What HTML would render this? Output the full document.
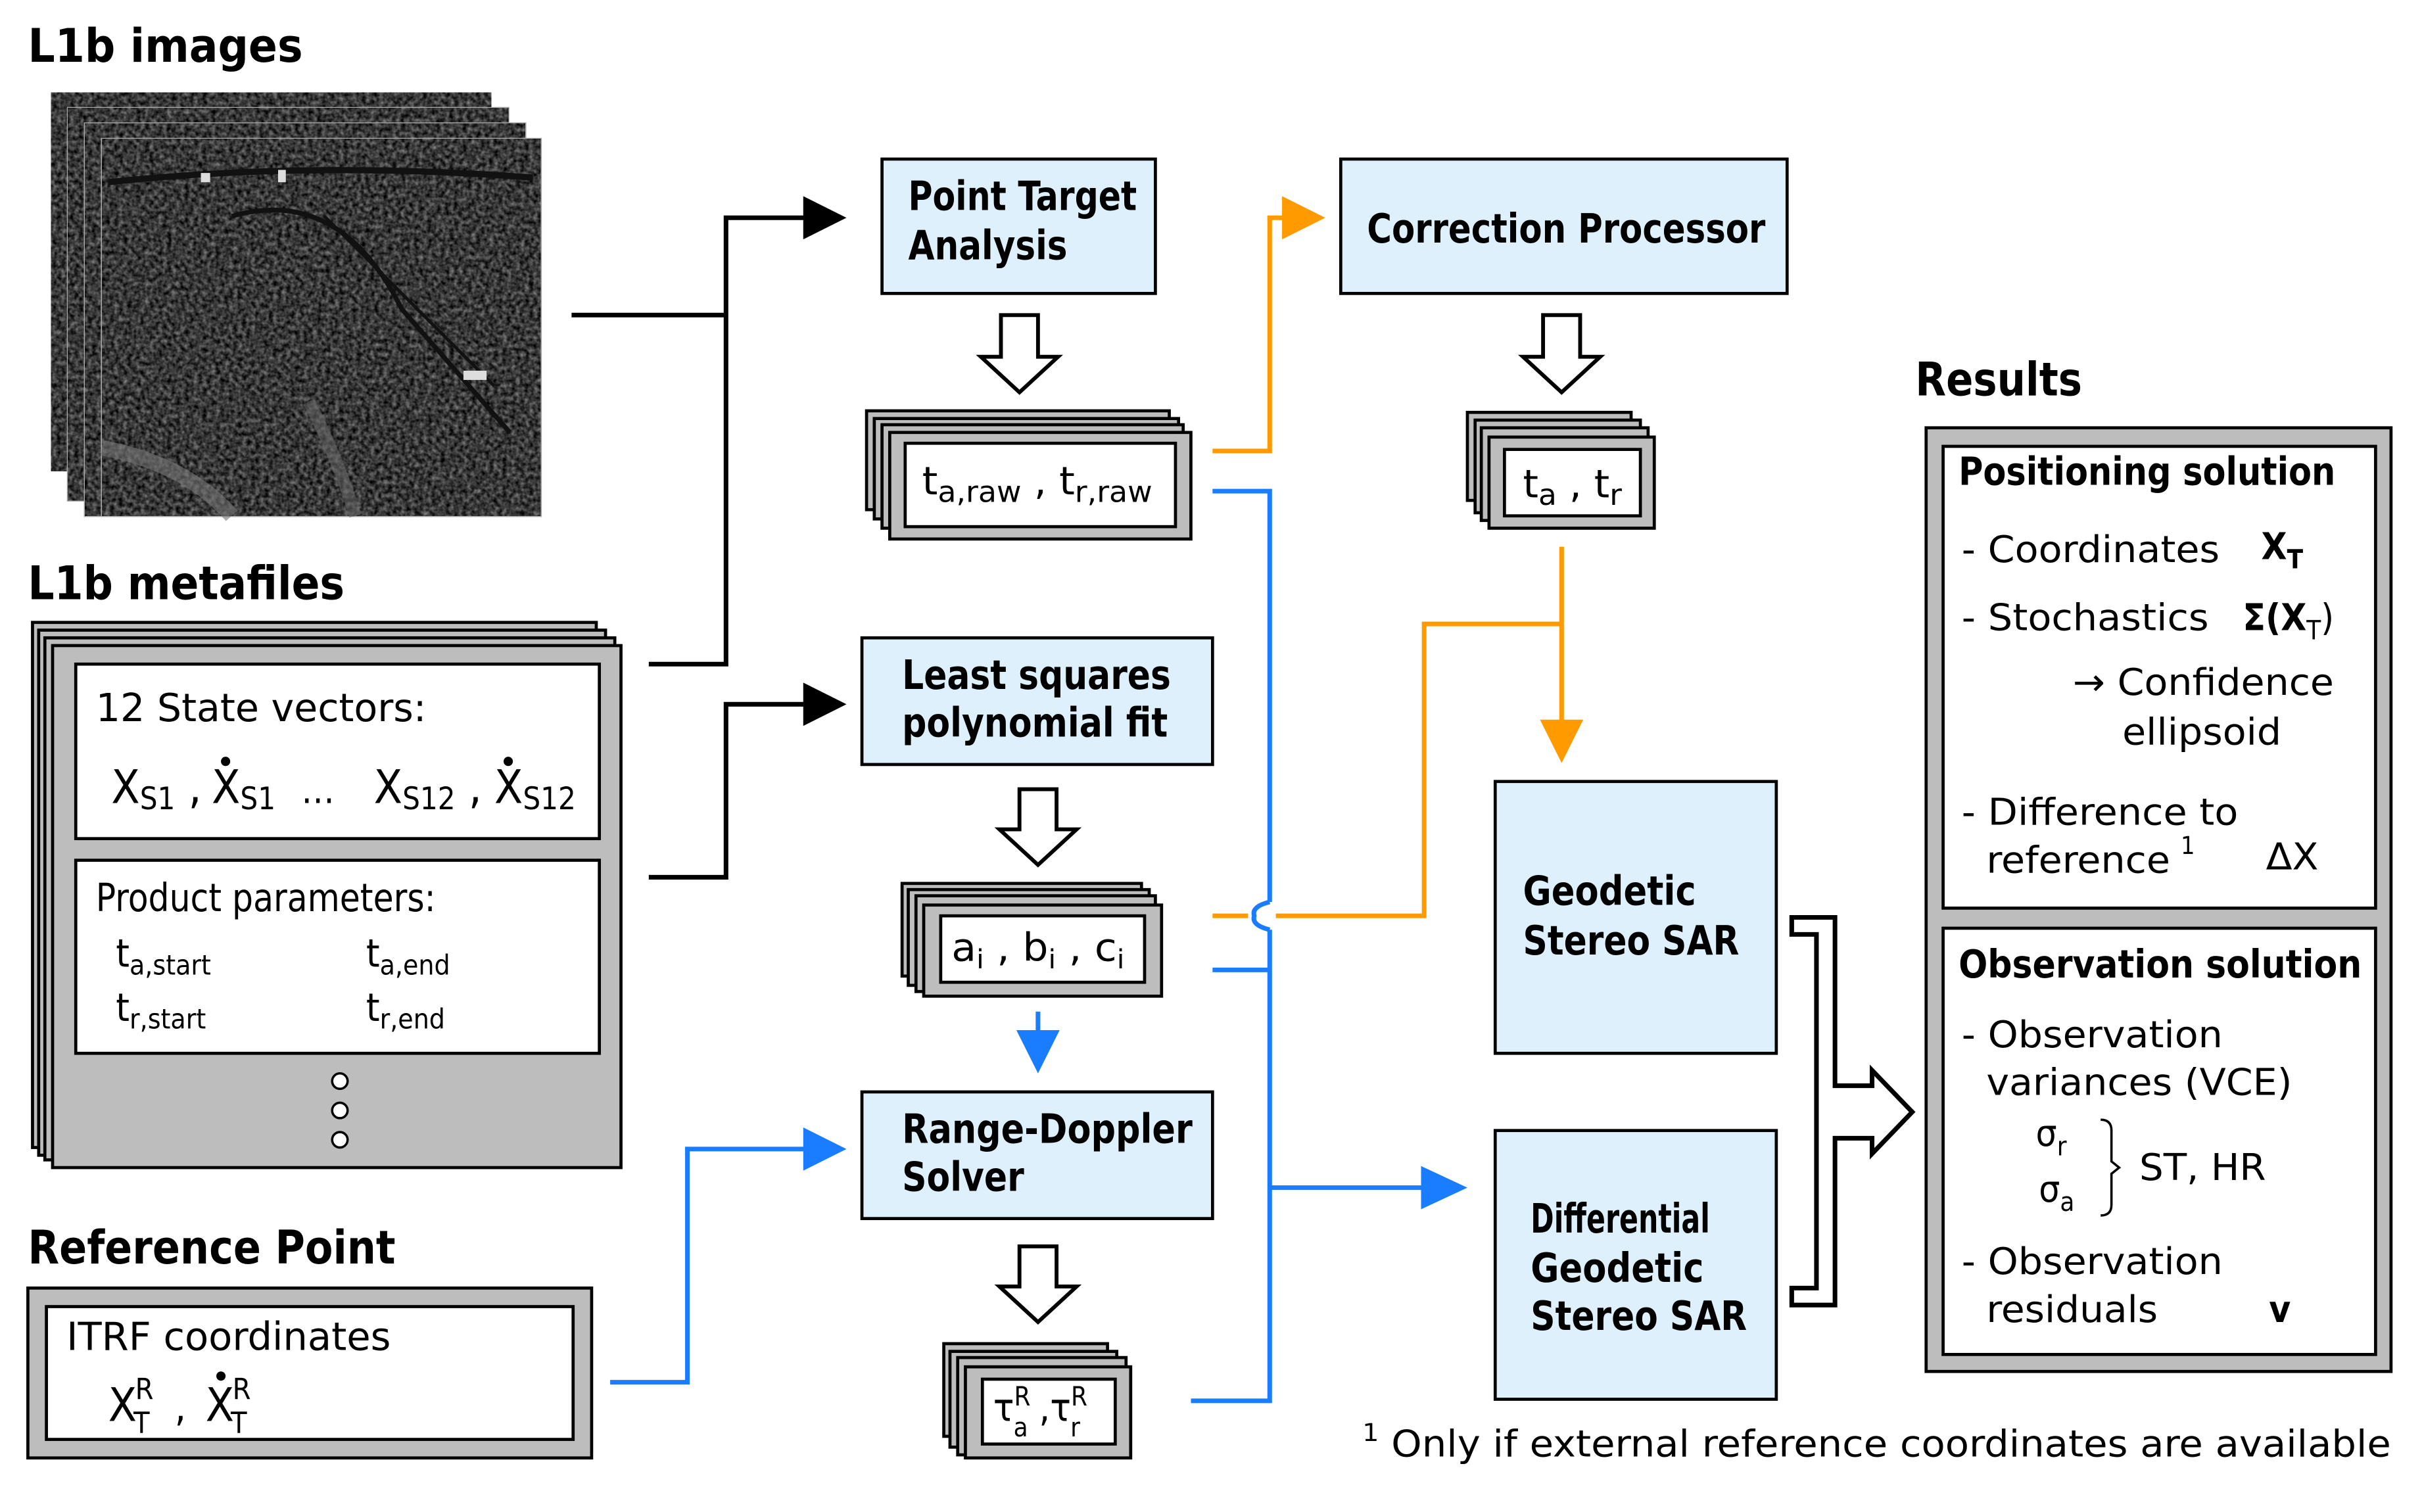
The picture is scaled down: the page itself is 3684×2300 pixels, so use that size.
<!DOCTYPE html>
<html><head><meta charset="utf-8"><style>
html,body{margin:0;padding:0;background:#fff;}
svg{display:block;}
text{font-family:"DejaVu Sans Condensed","DejaVu Sans","Liberation Sans",sans-serif;fill:#000;}
.b{font-weight:bold;}
.r{font-family:"DejaVu Sans","Liberation Sans",sans-serif;}
</style></head><body>
<svg width="3684" height="2300" viewBox="0 0 1568 979" xmlns="http://www.w3.org/2000/svg">
<defs>
<filter id="noise" x="0" y="0" width="100%" height="100%" filterUnits="objectBoundingBox" color-interpolation-filters="sRGB">
<feTurbulence type="fractalNoise" baseFrequency="0.35" numOctaves="2" seed="3"/>
<feColorMatrix type="matrix" values="0.7 0 0 0 -0.13  0.7 0 0 0 -0.13  0.7 0 0 0 -0.13  0 0 0 0 1"/>
</filter>
</defs>
<rect width="1568" height="979" fill="#fff"/>

<text x="18" y="40" class="b" font-size="30" textLength="178" lengthAdjust="spacingAndGlyphs">L1b images</text>
<text x="18" y="388" class="b" font-size="30" textLength="205" lengthAdjust="spacingAndGlyphs">L1b metafiles</text>
<text x="18" y="818" class="b" font-size="30" textLength="238" lengthAdjust="spacingAndGlyphs">Reference Point</text>
<text x="1240" y="256" class="b" font-size="30" textLength="108" lengthAdjust="spacingAndGlyphs">Results</text>

<!-- image stack -->
<rect x="33" y="60" width="285" height="245" fill="#444" filter="url(#noise)"/>
<rect x="44" y="70" width="285" height="254" fill="none" stroke="#aaa" stroke-width="1.5"/>
<rect x="44" y="70" width="285" height="254" fill="#3e3e3e" filter="url(#noise)"/>
<rect x="55" y="80" width="285" height="254" fill="none" stroke="#aaa" stroke-width="1.5"/>
<rect x="55" y="80" width="285" height="254" fill="#3a3a3a" filter="url(#noise)"/>
<rect x="66" y="90" width="284" height="244" fill="none" stroke="#aaa" stroke-width="1.5"/>
<rect x="66" y="90" width="284" height="244" fill="#353535" filter="url(#noise)"/>
<path d="M70,118 Q200,104 345,115" stroke="#111" stroke-width="4" fill="none"/>
<path d="M150,140 Q220,120 260,200 L330,280" stroke="#111" stroke-width="3" fill="none"/>
<path d="M210,140 L320,250" stroke="#111" stroke-width="2" fill="none"/>
<path d="M66,290 Q120,300 150,334" stroke="#777" stroke-width="10" fill="none" opacity="0.6"/>
<path d="M200,260 Q220,300 230,334" stroke="#666" stroke-width="8" fill="none" opacity="0.6"/>
<rect x="300" y="240" width="15" height="6" fill="#ddd"/><rect x="130" y="112" width="6" height="6" fill="#ddd"/><rect x="180" y="110" width="5" height="8" fill="#ddd"/>

<g stroke="#000" stroke-width="3" fill="none">
<polyline points="370,204 470,204"/>
<polyline points="420,430 470,430 470,141 522,141"/>
<polyline points="420,568 470,568 470,456 522,456"/>
</g>
<polygon points="520,127 548,141 520,155" fill="#000"/>
<polygon points="520,442 548,456 520,470" fill="#000"/>

<g stroke="#000" stroke-width="2" fill="#bdbdbd">
<rect x="21" y="403" width="365" height="340"/>
<rect x="25" y="408" width="367" height="340"/>
<rect x="29" y="413" width="369" height="338"/>
<rect x="34" y="418" width="368" height="338"/>
</g>
<rect x="49" y="430" width="339" height="113" fill="#fff" stroke="#000" stroke-width="2"/>
<rect x="49" y="557" width="339" height="125" fill="#fff" stroke="#000" stroke-width="2"/>
<text x="62" y="467" font-size="25" textLength="214" lengthAdjust="spacingAndGlyphs">12 State vectors:</text>
<g font-size="30">
<text x="72" y="520">X<tspan font-size="20" dy="4">S1</tspan><tspan dy="-4"> ,</tspan></text>
<text x="137" y="520">X<tspan font-size="20" dy="4">S1</tspan></text>
<text x="195" y="520" font-size="24">…</text>
<text x="242" y="520">X<tspan font-size="20" dy="4">S12</tspan><tspan dy="-4"> ,</tspan></text>
<text x="320" y="520">X<tspan font-size="20" dy="4">S12</tspan></text>
</g>
<circle cx="146" cy="493" r="3"/><circle cx="329" cy="493" r="3"/>
<text x="62" y="590" font-size="25" textLength="220" lengthAdjust="spacingAndGlyphs">Product parameters:</text>
<g font-size="25">
<text x="75" y="626">t<tspan font-size="18" dy="5">a,start</tspan></text>
<text x="237" y="626">t<tspan font-size="18" dy="5">a,end</tspan></text>
<text x="75" y="661">t<tspan font-size="18" dy="5">r,start</tspan></text>
<text x="237" y="661">t<tspan font-size="18" dy="5">r,end</tspan></text>
</g>
<g fill="#fff" stroke="#000" stroke-width="1.5">
<circle cx="220" cy="700" r="5"/><circle cx="220" cy="719" r="5"/><circle cx="220" cy="738" r="5"/>
</g>

<rect x="18" y="834" width="365" height="110" fill="#bdbdbd" stroke="#000" stroke-width="2"/>
<rect x="30" y="846" width="341" height="86" fill="#fff" stroke="#000" stroke-width="2"/>
<text x="43" y="874" font-size="25" textLength="210" lengthAdjust="spacingAndGlyphs">ITRF coordinates</text>
<g font-size="30">
<text x="70" y="920">X<tspan font-size="19" dx="-1" dy="-14">R</tspan><tspan font-size="19" dx="-13" dy="22">T</tspan></text>
<text x="113" y="920" font-size="26">,</text>
<text x="133" y="920">X<tspan font-size="19" dx="-1" dy="-14">R</tspan><tspan font-size="19" dx="-13" dy="22">T</tspan></text>
</g>
<circle cx="143" cy="891" r="3"/>

<g stroke="#1a7cff" stroke-width="3" fill="none">
<polyline points="395,895 445,895 445,744 522,744"/>
<polyline points="785,318 822,318 822,584"/>
<path d="M822,584 Q810,587 812,593 Q810,599 822,602"/>
<polyline points="822,602 822,907 771,907"/>
<polyline points="785,628 822,628"/>
<polyline points="822,769 922,769"/>
<polyline points="672,655 672,668"/>
</g>
<polygon points="520,730 548,744 520,758" fill="#1a7cff"/>
<polygon points="920,755 950,769 920,783" fill="#1a7cff"/>
<polygon points="658,667 686,667 672,695" fill="#1a7cff"/>

<g stroke="#ff9a00" stroke-width="3" fill="none">
<polyline points="785,292 822,292 822,141 832,141"/>
<polyline points="1011,354 1011,468"/>
<polyline points="1011,404 922,404 922,593 826,593"/>
<polyline points="785,593 808,593"/>
</g>
<polygon points="830,127 858,141 830,155" fill="#ff9a00"/>
<polygon points="997,466 1025,466 1011,494" fill="#ff9a00"/>

<g fill="#dff0fd" stroke="#000" stroke-width="2">
<rect x="571" y="103" width="177" height="87"/>
<rect x="868" y="103" width="289" height="87"/>
<rect x="558" y="413" width="227" height="82"/>
<rect x="558" y="707" width="227" height="82"/>
<rect x="968" y="506" width="182" height="176"/>
<rect x="968" y="732" width="182" height="174"/>
</g>
<g class="b" font-size="26">
<text x="588" y="136" textLength="148" lengthAdjust="spacingAndGlyphs">Point Target</text>
<text x="588" y="168" textLength="103" lengthAdjust="spacingAndGlyphs">Analysis</text>
<text x="885" y="157" textLength="258" lengthAdjust="spacingAndGlyphs">Correction Processor</text>
<text x="584" y="446" textLength="174" lengthAdjust="spacingAndGlyphs">Least squares</text>
<text x="584" y="477" textLength="172" lengthAdjust="spacingAndGlyphs">polynomial fit</text>
<text x="584" y="740" textLength="188" lengthAdjust="spacingAndGlyphs">Range-Doppler</text>
<text x="584" y="771" textLength="79" lengthAdjust="spacingAndGlyphs">Solver</text>
<text x="986" y="586" textLength="112" lengthAdjust="spacingAndGlyphs">Geodetic</text>
<text x="986" y="618" textLength="140" lengthAdjust="spacingAndGlyphs">Stereo SAR</text>
<text x="991" y="798" textLength="116" lengthAdjust="spacingAndGlyphs">Differential</text>
<text x="991" y="830" textLength="112" lengthAdjust="spacingAndGlyphs">Geodetic</text>
<text x="991" y="861" textLength="140" lengthAdjust="spacingAndGlyphs">Stereo SAR</text>
</g>

<g fill="#fff" stroke="#000" stroke-width="2.5" stroke-linejoin="miter">
<polygon points="648,204 672,204 672,231 685,231 660,254 635,231 648,231"/>
<polygon points="999,204 1023,204 1023,231 1036,231 1011,254 986,231 999,231"/>
<polygon points="660,511 684,511 684,537 697,537 672,560 647,537 660,537"/>
<polygon points="660,807 684,807 684,833 697,833 672,856 647,833 660,833"/>
</g>

<g stroke="#000" stroke-width="2" fill="#bdbdbd">
<rect x="561" y="266" width="196" height="64"/><rect x="566" y="271" width="197" height="65"/><rect x="571" y="275" width="195" height="67"/><rect x="576" y="280" width="195" height="69"/>
<rect x="950" y="267" width="106" height="57"/><rect x="955" y="272" width="107" height="60"/><rect x="959" y="277" width="108" height="60"/><rect x="964" y="283" width="107" height="59"/>
<rect x="584" y="572" width="155" height="60"/><rect x="588" y="576" width="156" height="62"/><rect x="593" y="580" width="155" height="62"/><rect x="598" y="586" width="154" height="59"/>
<rect x="611" y="870" width="106" height="60"/><rect x="615" y="875" width="108" height="62"/><rect x="620" y="879" width="109" height="63"/><rect x="625" y="885" width="107" height="59"/>
</g>
<g fill="#fff" stroke="#000" stroke-width="2">
<rect x="586" y="287" width="175" height="54"/>
<rect x="974" y="291" width="88" height="43"/>
<rect x="609" y="593" width="132" height="43"/>
<rect x="636" y="893" width="86" height="42"/>
</g>
<g font-size="25">
<text x="597" y="320" textLength="149" lengthAdjust="spacingAndGlyphs">t<tspan font-size="19" dy="5">a,raw</tspan><tspan dy="-5"> , t</tspan><tspan font-size="19" dy="5">r,raw</tspan></text>
<text x="986" y="322" textLength="64" lengthAdjust="spacingAndGlyphs">t<tspan font-size="19" dy="5">a</tspan><tspan dy="-5"> , t</tspan><tspan font-size="19" dy="5">r</tspan></text>
<text x="616" y="622" textLength="112" lengthAdjust="spacingAndGlyphs">a<tspan font-size="17" dy="5">i</tspan><tspan dy="-5"> , b</tspan><tspan font-size="17" dy="5">i</tspan><tspan dy="-5"> , c</tspan><tspan font-size="17" dy="5">i</tspan></text>
<text x="643" y="920">τ<tspan font-size="17" dy="-10">R</tspan><tspan font-size="17" dx="-11" dy="20">a</tspan><tspan dy="-10"> ,τ</tspan><tspan font-size="17" dy="-10">R</tspan><tspan font-size="17" dx="-11" dy="20">r</tspan></text>
</g>

<path d="M1160,594 H1188 V703 H1212 V693 L1238,720 L1212,747 V737 H1188 V845 H1160 V834 H1176 V605 H1160 Z" fill="#fff" stroke="#000" stroke-width="3"/>

<rect x="1247" y="277" width="301" height="611" fill="#bdbdbd" stroke="#000" stroke-width="2"/>
<rect x="1258" y="289" width="280" height="299" fill="#fff" stroke="#000" stroke-width="2"/>
<rect x="1258" y="601" width="280" height="276" fill="#fff" stroke="#000" stroke-width="2"/>
<text x="1268" y="314" class="b" font-size="25" textLength="244" lengthAdjust="spacingAndGlyphs">Positioning solution</text>
<g class="r" font-size="24">
<text x="1270" y="364" textLength="167" lengthAdjust="spacingAndGlyphs">- Coordinates</text>
<text x="1464" y="362" class="b">X<tspan font-size="17" dy="6">T</tspan></text>
<text x="1270" y="408" textLength="160" lengthAdjust="spacingAndGlyphs">- Stochastics</text>
<text x="1452" y="408"><tspan class="b">Σ(X</tspan><tspan font-size="17" dy="6">T</tspan><tspan dy="-6">)</tspan></text>
<text x="1342" y="450" textLength="169" lengthAdjust="spacingAndGlyphs">→ Confidence</text>
<text x="1374" y="482" textLength="103" lengthAdjust="spacingAndGlyphs">ellipsoid</text>
<text x="1270" y="534" textLength="179" lengthAdjust="spacingAndGlyphs">- Difference to</text>
<text x="1286" y="565"><tspan textLength="119" lengthAdjust="spacingAndGlyphs">reference</tspan> <tspan font-size="16" dy="-12">1</tspan></text>
<text x="1467" y="563" textLength="34" lengthAdjust="spacingAndGlyphs">ΔX</text>
</g>
<text x="1268" y="633" class="b" font-size="25" textLength="261" lengthAdjust="spacingAndGlyphs">Observation solution</text>
<g class="r" font-size="24">
<text x="1270" y="678" textLength="169" lengthAdjust="spacingAndGlyphs">- Observation</text>
<text x="1286" y="709" textLength="198" lengthAdjust="spacingAndGlyphs">variances (VCE)</text>
<text x="1318" y="742">σ<tspan font-size="17" dy="6">r</tspan></text>
<text x="1320" y="778">σ<tspan font-size="17" dy="6">a</tspan></text>
<text x="1385" y="764" textLength="82" lengthAdjust="spacingAndGlyphs">ST, HR</text>
<text x="1270" y="825" textLength="169" lengthAdjust="spacingAndGlyphs">- Observation</text>
<text x="1286" y="856" textLength="111" lengthAdjust="spacingAndGlyphs">residuals</text>
<text x="1469" y="856" class="b">v</text>
</g>
<path d="M1360,725 Q1367,725 1367,732 V752 L1372,756 L1367,760 V780 Q1367,787 1360,787" fill="none" stroke="#000" stroke-width="1.5"/>

<text x="882" y="943" font-size="24" textLength="666" lengthAdjust="spacingAndGlyphs"><tspan font-size="16" dy="-10">1</tspan><tspan dy="10"> Only if external reference coordinates are available</tspan></text>
</svg>
</body></html>
